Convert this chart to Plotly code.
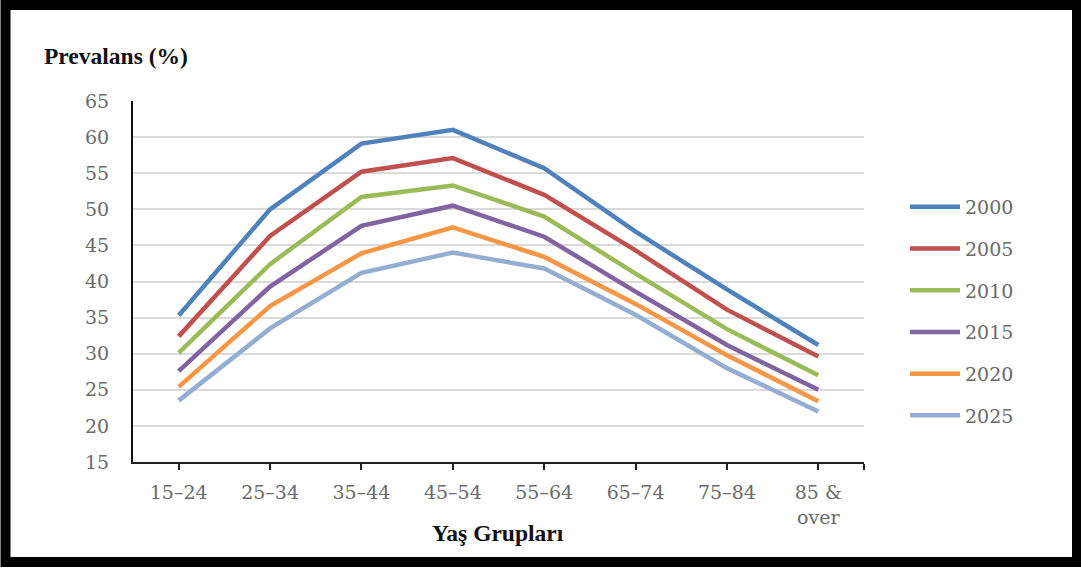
import plotly.graph_objects as go

age_groups = ["15–24", "25–34", "35–44", "45–54", "55–64", "65–74", "75–84", "85 &<br>over"]
years = ["2000", "2005", "2010", "2015", "2020", "2025"]
v2000 = [35.3, 50.0, 59.1, 61.0, 55.7, 46.9, 38.9, 31.2]
v2005 = [32.4, 46.3, 55.2, 57.1, 52.0, 44.3, 36.1, 29.6]
v2010 = [30.1, 42.4, 51.7, 53.3, 49.0, 41.1, 33.4, 27.0]
v2015 = [27.6, 39.3, 47.7, 50.5, 46.2, 38.6, 31.2, 25.0]
v2020 = [25.4, 36.6, 43.9, 47.5, 43.4, 36.9, 29.8, 23.4]
v2025 = [23.5, 33.5, 41.2, 44.0, 41.8, 35.4, 28.0, 22.0]
series = [v2000, v2005, v2010, v2015, v2020, v2025]
colors = ["#4F81BD", "#C0504D", "#9BBB59", "#8064A2", "#F79646", "#93ADD3"]

W, H = 1081, 568
ML, MR, MT, MB = 133, 217, 101, 106
PW, PH = W - ML - MR, H - MT - MB

def px2x(px):
    return (px - ML) / PW

def px2y(py):
    return (H - MB - py) / PH

fig = go.Figure()
xs = list(range(len(age_groups)))
for name, vals, col in zip(years, series, colors):
    fig.add_trace(go.Scatter(x=xs, y=vals, mode="lines", name=name,
                             legendgroup=name,
                             line=dict(color=col, width=4.5)))

tick_font = dict(family="DejaVu Serif", size=19, color="#6a6a6a")

fig.update_layout(
    width=W, height=H,
    margin=dict(l=ML, r=MR, t=MT, b=MB, pad=0),
    paper_bgcolor="white", plot_bgcolor="white",
    showlegend=True,
    legend=dict(x=px2x(905), y=px2y(188), xanchor="left", yanchor="top",
                font=tick_font, tracegroupgap=14, itemwidth=50,
                bgcolor="rgba(0,0,0,0)"),
    xaxis=dict(range=[-0.5, 7.5], tickvals=xs + [7.5], ticktext=age_groups + [""],
               ticks="outside", ticklen=6, tickwidth=2, tickcolor="#222",
               showline=True, linecolor="#222", linewidth=2,
               showgrid=False, zeroline=False, tickfont=tick_font,
               ticklabelstandoff=6),
    yaxis=dict(range=[15, 65], dtick=5, tick0=15, showgrid=True,
               gridcolor="#dadada", gridwidth=2, showline=True,
               linecolor="#111", linewidth=2, zeroline=False,
               tickfont=tick_font, ticklabelstandoff=18),
)

fig.add_annotation(text="<b>Prevalans (%)</b>", xref="paper", yref="paper",
                   x=px2x(42), y=px2y(56), xanchor="left", yanchor="middle",
                   showarrow=False,
                   font=dict(family="Liberation Serif", size=23.5, color="#111"))
fig.add_annotation(text="<b>Yaş Grupları</b>", xref="paper", yref="paper",
                   x=px2x(498), y=px2y(533), xanchor="center", yanchor="middle",
                   showarrow=False,
                   font=dict(family="Liberation Serif", size=23.5, color="#111"))

# outer black frame
fig.add_shape(type="rect", xref="paper", yref="paper",
              x0=px2x(5.5), x1=px2x(1077), y0=px2y(5), y1=px2y(562),
              line=dict(color="black", width=10), fillcolor="rgba(0,0,0,0)",
              layer="above")

fig.write_html("out.html")
